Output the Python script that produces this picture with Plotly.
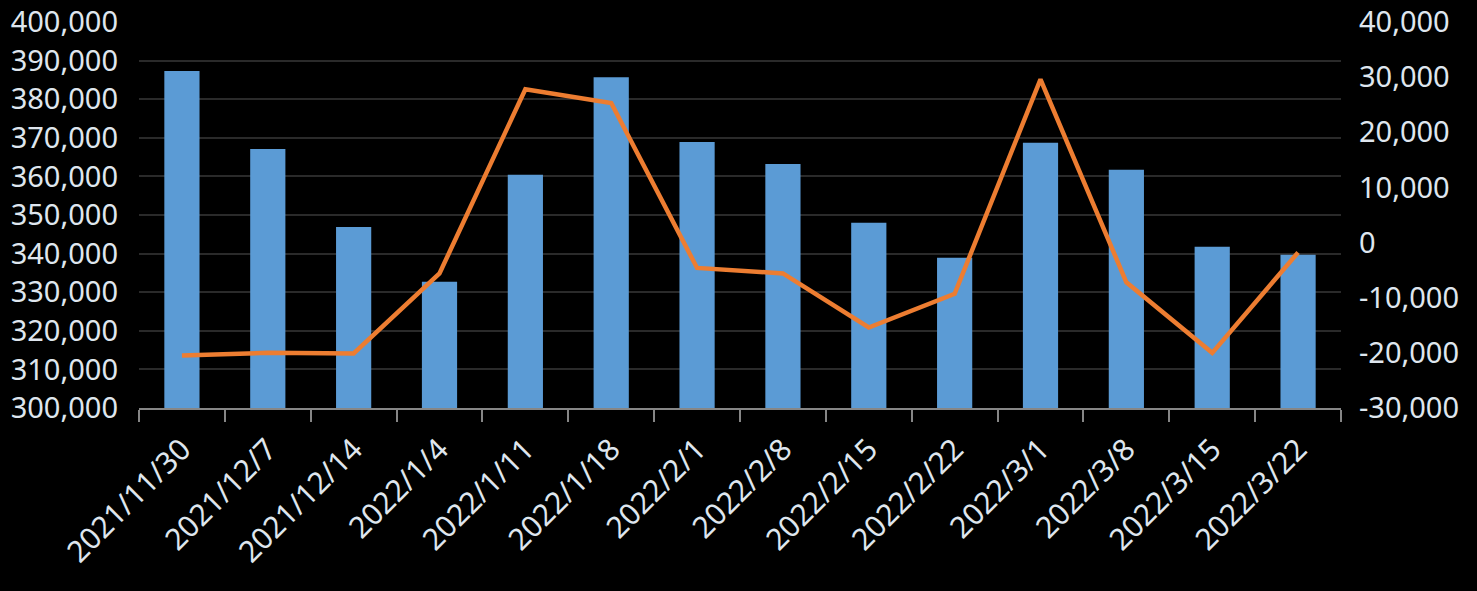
import plotly.graph_objects as go

categories = ["2021/11/30", "2021/12/7", "2021/12/14", "2022/1/4", "2022/1/11",
              "2022/1/18", "2022/2/1", "2022/2/8", "2022/2/15", "2022/2/22",
              "2022/3/1", "2022/3/8", "2022/3/15", "2022/3/22"]
bar_values = [387300, 367100, 346900, 332700, 360400, 385700, 368900,
              363200, 348000, 338900, 368700, 361700, 341800, 339700]
line_values = [-20500, -20000, -20100, -5600, 27800, 25300, -4600,
               -5600, -15400, -9300, 29600, -7200, -20000, -1800]

left_ticks = list(range(300000, 400001, 10000))
right_ticks = list(range(-30000, 40001, 10000))
left_ticktext = [f"{v:,}" for v in left_ticks]
right_ticktext = [f"{v:,}" for v in right_ticks]

FONT = "Noto Sans"
TXT = "#dfe6ee"

fig = go.Figure()
fig.add_trace(go.Bar(x=categories, y=bar_values, marker=dict(color="#5b9bd5", line=dict(width=0)),
                     yaxis="y", hoverinfo="x+y"))
fig.add_trace(go.Scatter(x=categories, y=line_values, mode="lines", yaxis="y2",
                         line=dict(color="#ed7d31", width=4.5)))

fig.update_layout(
    width=1477, height=591,
    paper_bgcolor="black", plot_bgcolor="black",
    margin=dict(l=139, r=136, t=22, b=183, autoexpand=False),
    showlegend=False,
    bargap=0.59,
    font=dict(family=FONT, size=29, color=TXT),
    xaxis=dict(type="category", tickangle=-45, showgrid=False, automargin=False,
               showline=True, linecolor="#868686", linewidth=1.5,
               ticks="outside", tickson="boundaries", ticklen=12, tickcolor="#868686", tickwidth=1.5,
               ticklabelstandoff=10,
               tickfont=dict(family=FONT, size=30, color=TXT)),
    yaxis=dict(range=[300000, 400000], tickvals=left_ticks, ticktext=left_ticktext,
               showgrid=True, gridcolor="#2a2a2a", gridwidth=1.5, zeroline=False, automargin=False,
               showline=False, ticks="", ticklabelstandoff=20,
               tickfont=dict(family=FONT, size=29, color=TXT)),
    yaxis2=dict(range=[-30000, 40000], tickvals=right_ticks, ticktext=right_ticktext,
                overlaying="y", side="right", showgrid=False, zeroline=False, automargin=False,
                showline=False, ticks="", ticklabelstandoff=17,
                tickfont=dict(family=FONT, size=29, color=TXT)),
)

fig.write_html("out.html", config={"displayModeBar": False},
               post_script="document.body.style.margin='0';document.body.style.background='black';")
